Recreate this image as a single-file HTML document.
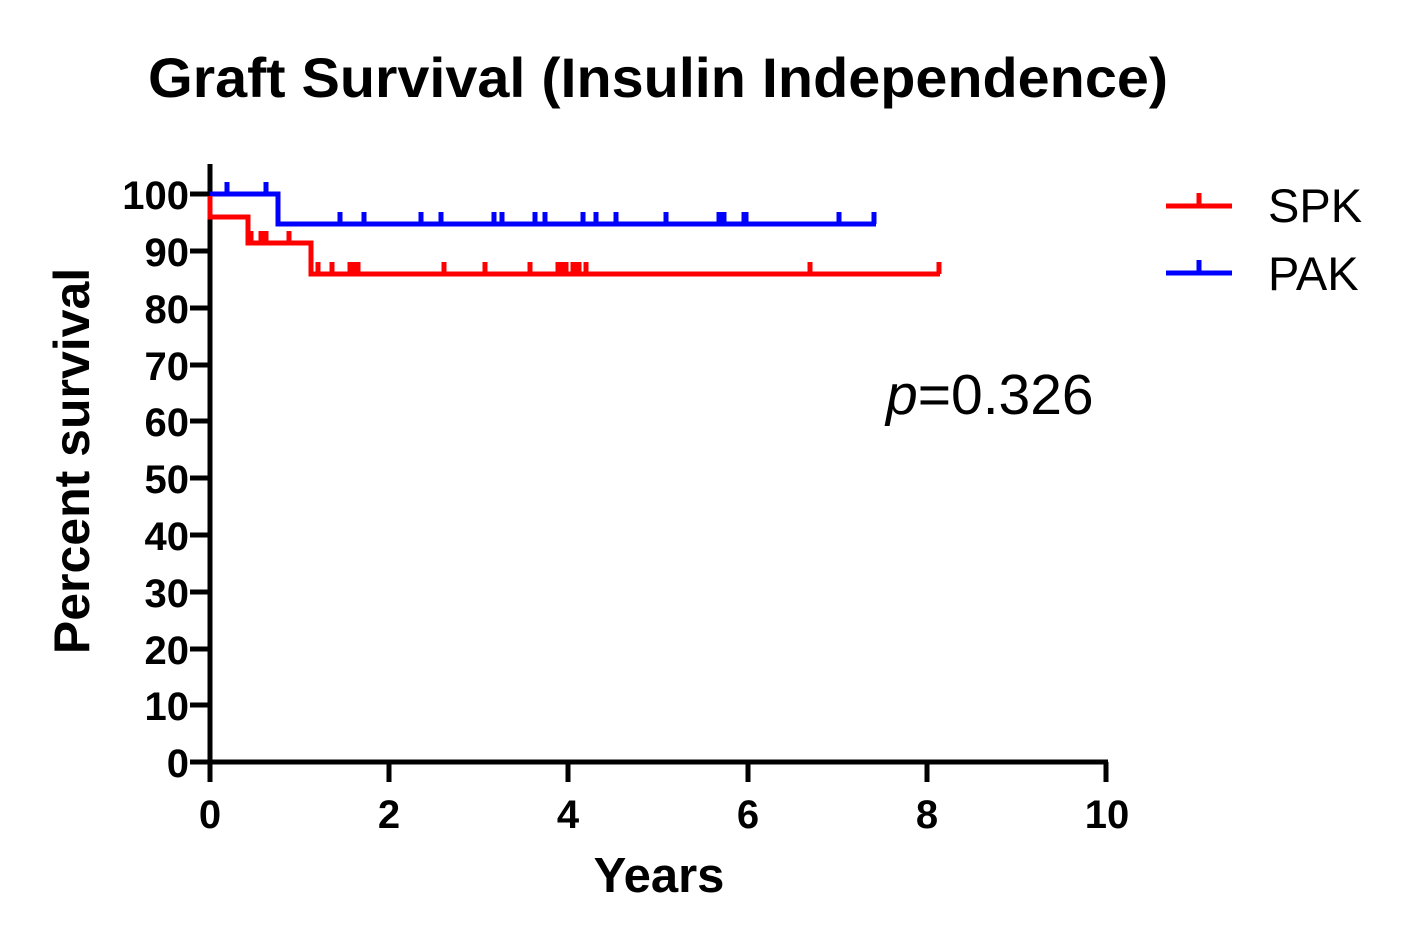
<!DOCTYPE html>
<html><head><style>body{margin:0;background:#fff}svg{display:block}</style></head><body>
<svg width="1407" height="946" xmlns="http://www.w3.org/2000/svg" font-family="Liberation Sans, Arial, sans-serif">
<text x="148" y="97" font-size="56" font-weight="bold" textLength="1020" lengthAdjust="spacingAndGlyphs">Graft Survival (Insulin Independence)</text>
<g stroke="#000" stroke-width="5" fill="none">
<line x1="210" y1="164" x2="210" y2="764"/>
<line x1="208" y1="762" x2="1108" y2="762"/>
<path d="M190 194H210M190 251H210M190 308H210M190 365H210M190 421H210M190 478H210M190 535H210M190 592H210M190 649H210M190 705H210M190 762H210"/>
<path d="M210 762V782M389 762V782M568 762V782M748 762V782M927 762V782M1106 762V782"/>
</g>
<g font-size="40" font-weight="bold" text-anchor="end">
<text x="189" y="209">100</text><text x="189" y="266">90</text><text x="189" y="323">80</text><text x="189" y="380">70</text><text x="189" y="436">60</text><text x="189" y="493">50</text><text x="189" y="550">40</text><text x="189" y="607">30</text><text x="189" y="664">20</text><text x="189" y="720">10</text><text x="189" y="777">0</text>
</g>
<g font-size="40" font-weight="bold" text-anchor="middle">
<text x="210" y="828">0</text><text x="389" y="828">2</text><text x="568" y="828">4</text><text x="748" y="828">6</text><text x="927" y="828">8</text><text x="1107" y="828">10</text>
</g>
<text x="659" y="892" font-size="49" font-weight="bold" text-anchor="middle">Years</text>
<text transform="translate(89,461) rotate(-90)" font-size="50" font-weight="bold" text-anchor="middle">Percent survival</text>
<g stroke="#0000ff" stroke-width="5" fill="none">
<path d="M210 194H278V224H876"/>
<path d="M227 194V182M266 194V182M340 224V212M364 224V212M421 224V212M441 224V212M494 224V212M502 224V212M535 224V212M545 224V212M583 224V212M596 224V212M616 224V212M666 224V212M719 224V212M724 224V212M744 224V212M746 224V212M839 224V212M874 224V212"/>
</g>
<g stroke="#ff0000" stroke-width="5" fill="none">
<path d="M210 196V217H248V243H311V274H940"/>
<path d="M251 243V231M261 243V231M264 243V231M266 243V231M289 243V231M318 274V262M332 274V262M350 274V262M355 274V262M358 274V262M444 274V262M485 274V262M530 274V262M558 274V262M563 274V262M566 274V262M573 274V262M576 274V262M579 274V262M586 274V262M810 274V262M939 274V262"/>
</g>
<g stroke-width="5">
<line x1="1166" y1="206" x2="1232" y2="206" stroke="#ff0000"/><line x1="1199" y1="206" x2="1199" y2="193" stroke="#ff0000"/>
<line x1="1166" y1="273" x2="1232" y2="273" stroke="#0000ff"/><line x1="1199" y1="273" x2="1199" y2="260" stroke="#0000ff"/>
</g>
<text x="1268" y="222" font-size="47">SPK</text>
<text x="1268" y="290" font-size="47">PAK</text>
<text x="886" y="414" font-size="57"><tspan font-style="italic">p</tspan>=0.326</text>
</svg>
</body></html>
